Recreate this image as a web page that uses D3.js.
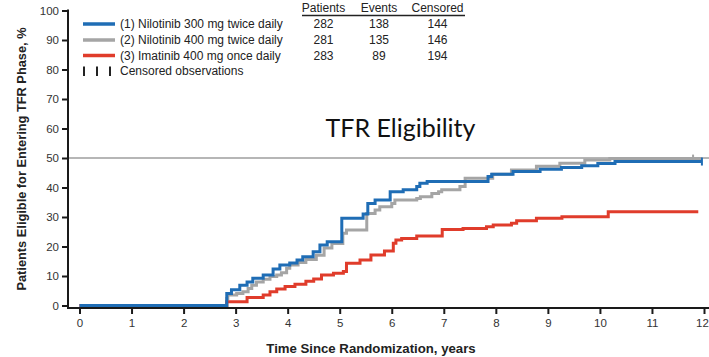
<!DOCTYPE html>
<html>
<head>
<meta charset="utf-8">
<script src="https://cdn.jsdelivr.net/npm/d3@7"></script>
<style>
  html, body { margin: 0; padding: 0; background: #fff; }
  svg { display: block; font-family: "Liberation Sans", Arial, sans-serif; }
</style>
</head>
<body>
<svg id="chart" width="709" height="357"></svg>
<script>
// Cumulative % of patients eligible for the TFR phase, as [years, percent] step points
const nilotinib300 = [
  [0, 0], [2.83, 4.1], [2.92, 5.3], [3.08, 6.9], [3.22, 8.0], [3.33, 9.2], [3.53, 10.3],
  [3.72, 12.4], [3.85, 13.7], [4.04, 14.4], [4.18, 15.4], [4.29, 16.5], [4.49, 18.2],
  [4.62, 20.5], [4.76, 21.6], [5.04, 29.6], [5.45, 31.0], [5.54, 34.6], [5.68, 35.8],
  [5.97, 38.6], [6.22, 39.2], [6.48, 40.3], [6.54, 41.4], [6.68, 42.0], [7.85, 43.7],
  [7.92, 44.5], [8.33, 45.4], [8.85, 46.2], [9.26, 46.8], [9.65, 47.4], [9.96, 48.1],
  [10.29, 48.8], [11.96, 48.8]
];
const nilotinib400 = [
  [0, 0], [2.83, 2.4], [2.85, 3.6], [3.02, 4.1], [3.14, 4.7], [3.24, 5.8], [3.31, 6.9],
  [3.40, 8.0], [3.53, 8.9], [3.66, 9.8], [3.79, 10.3], [3.88, 11.1], [3.98, 12.6],
  [4.04, 13.7], [4.20, 14.6], [4.35, 15.6], [4.55, 17.0], [4.70, 19.5], [4.85, 21.0],
  [5.06, 24.5], [5.13, 25.6], [5.52, 31.2], [5.68, 32.4], [5.77, 33.5], [6.00, 34.6],
  [6.06, 35.8], [6.48, 36.3], [6.55, 36.9], [6.77, 38.0], [6.90, 38.6], [6.96, 39.2],
  [7.31, 40.3], [7.41, 43.1], [7.94, 44.5], [8.30, 45.9], [8.78, 47.2], [9.23, 48.2],
  [9.71, 49.3], [10.19, 49.8], [11.96, 49.8]
];
const imatinib400 = [
  [0, 0], [2.83, 1.3], [3.22, 2.7], [3.53, 3.6], [3.66, 4.7], [3.79, 5.6], [3.95, 6.4],
  [4.14, 7.2], [4.35, 8.2], [4.50, 9.0], [4.65, 10.3], [4.88, 10.9], [5.07, 11.5],
  [5.13, 14.3], [5.39, 15.4], [5.60, 17.1], [5.86, 18.5], [6.03, 21.1], [6.08, 22.2],
  [6.19, 22.7], [6.48, 23.6], [6.97, 25.8], [7.37, 26.1], [7.82, 26.7], [7.95, 27.3],
  [8.30, 27.9], [8.40, 28.7], [8.78, 29.6], [9.27, 30.1], [10.16, 31.8], [11.89, 31.8]
];
// Censor marks visible at the tail of the curves: [years, percent]
const censorNil300 = [[11.96, 48.8]];
const censorNil400 = [[11.79, 49.8]];

const seriesNames = ["(1) Nilotinib 300 mg twice daily", "(2) Nilotinib 400 mg twice daily", "(3) Imatinib 400 mg once daily"];
const seriesColors = ["#1f6db5", "#a5a5a5", "#e03c2b"];
const patients = [282, 281, 283];
const events = [138, 135, 89];
const censored = [144, 146, 194];
const tableHeaders = ["Patients", "Events", "Censored"];

const xTicks = d3.range(0, 13);
const yTicks = d3.range(0, 101, 10);
const referenceLevel = 50;

const svg = d3.select("#chart");
const x = d3.scaleLinear().domain([0, 12]).range([79.5, 704]);
const y = d3.scaleLinear().domain([0, 100]).range([305.5, 10.5]);

const axisColor = "#1a1a1a";
const textColor = "#333";

// Horizontal reference line at 50 %
svg.append("line")
  .attr("x1", 68).attr("x2", 709)
  .attr("y1", y(referenceLevel)).attr("y2", y(referenceLevel))
  .attr("stroke", "#9e9e9e").attr("stroke-width", 1.5);

// Y axis
const yAxis = svg.append("g").attr("transform", "translate(68,0)")
  .call(d3.axisLeft(y).tickValues(yTicks).tickSize(6).tickSizeOuter(0).tickPadding(3));
yAxis.select(".domain").remove();
yAxis.selectAll(".tick line").attr("stroke", axisColor).attr("stroke-width", 2);
yAxis.selectAll(".tick text").attr("fill", textColor).style("font-size", "11.5px")
  .style("font-family", "'Liberation Sans', Arial, sans-serif");
svg.append("line").attr("x1", 68).attr("x2", 68).attr("y1", 9.5).attr("y2", 309)
  .attr("stroke", axisColor).attr("stroke-width", 2);

// X axis
const xAxis = svg.append("g").attr("transform", "translate(0,308)")
  .call(d3.axisBottom(x).tickValues(xTicks).tickSize(6).tickSizeOuter(0).tickPadding(5));
xAxis.select(".domain").remove();
xAxis.selectAll(".tick line").attr("stroke", axisColor).attr("stroke-width", 2);
xAxis.selectAll(".tick text").attr("fill", textColor).style("font-size", "11.5px")
  .style("font-family", "'Liberation Sans', Arial, sans-serif");
// keep the last label inside the right edge
xAxis.selectAll(".tick text").filter(d => d === 12).attr("dx", "-2px");
svg.append("line").attr("x1", 67).attr("x2", 709).attr("y1", 308).attr("y2", 308)
  .attr("stroke", axisColor).attr("stroke-width", 2);

// Axis titles
svg.append("text")
  .attr("x", 371).attr("y", 353)
  .attr("text-anchor", "middle")
  .attr("font-weight", "bold").attr("font-size", "13.2px").attr("fill", "#222")
  .text("Time Since Randomization, years");
svg.append("text")
  .attr("transform", "translate(26,159) rotate(-90)")
  .attr("text-anchor", "middle")
  .attr("font-weight", "bold").attr("font-size", "12.8px").attr("fill", "#222")
  .text("Patients Eligible for Entering TFR Phase, %");

// Chart annotation
svg.append("text")
  .attr("x", 400.5).attr("y", 137)
  .attr("text-anchor", "middle")
  .attr("font-size", "25px").attr("fill", "#111")
  .style("font-family", "Lato, 'Open Sans', sans-serif")
  .text("TFR Eligibility");

// Kaplan-Meier style step curves
const line = d3.line()
  .x(d => x(d[0])).y(d => y(d[1]))
  .curve(d3.curveStepAfter);

const curves = [
  { data: nilotinib400, color: seriesColors[1], censor: censorNil400 },
  { data: imatinib400, color: seriesColors[2], censor: [] },
  { data: nilotinib300, color: seriesColors[0], censor: censorNil300 }
];
curves.forEach(c => {
  svg.append("path").datum(c.data)
    .attr("fill", "none").attr("stroke", c.color).attr("stroke-width", 3)
    .attr("stroke-linejoin", "miter")
    .attr("d", line);
  svg.selectAll(null).data(c.censor).enter().append("line")
    .attr("x1", d => x(d[0])).attr("x2", d => x(d[0]))
    .attr("y1", d => y(d[1]) - 4).attr("y2", d => y(d[1]) + 4)
    .attr("stroke", c.color).attr("stroke-width", 2);
});

// Legend
const legend = svg.append("g").attr("font-size", "12px").attr("fill", "#222");
const rowY = [24, 40, 55.5];
seriesNames.forEach((name, i) => {
  legend.append("line")
    .attr("x1", 83).attr("x2", 115).attr("y1", rowY[i]).attr("y2", rowY[i])
    .attr("stroke", seriesColors[i]).attr("stroke-width", 3.5);
  legend.append("text").attr("x", 120).attr("y", rowY[i] + 4.3).text(name);
});
[84, 97, 110].forEach(cx => {
  legend.append("line").attr("x1", cx).attr("x2", cx).attr("y1", 66.5).attr("y2", 76)
    .attr("stroke", "#222").attr("stroke-width", 2);
});
legend.append("text").attr("x", 120).attr("y", 75.3).text("Censored observations");

// Counts table
const colX = [323.5, 379, 437.5];
tableHeaders.forEach((h, j) => {
  legend.append("text").attr("x", colX[j]).attr("y", 12).attr("text-anchor", "middle").text(h);
});
legend.append("line").attr("x1", 302).attr("x2", 465).attr("y1", 15.5).attr("y2", 15.5)
  .attr("stroke", "#222").attr("stroke-width", 1.5);
[patients, events, censored].forEach((col, j) => {
  col.forEach((v, i) => {
    legend.append("text").attr("x", colX[j]).attr("y", rowY[i] + 4.3)
      .attr("text-anchor", "middle").text(v);
  });
});
</script>
</body>
</html>
